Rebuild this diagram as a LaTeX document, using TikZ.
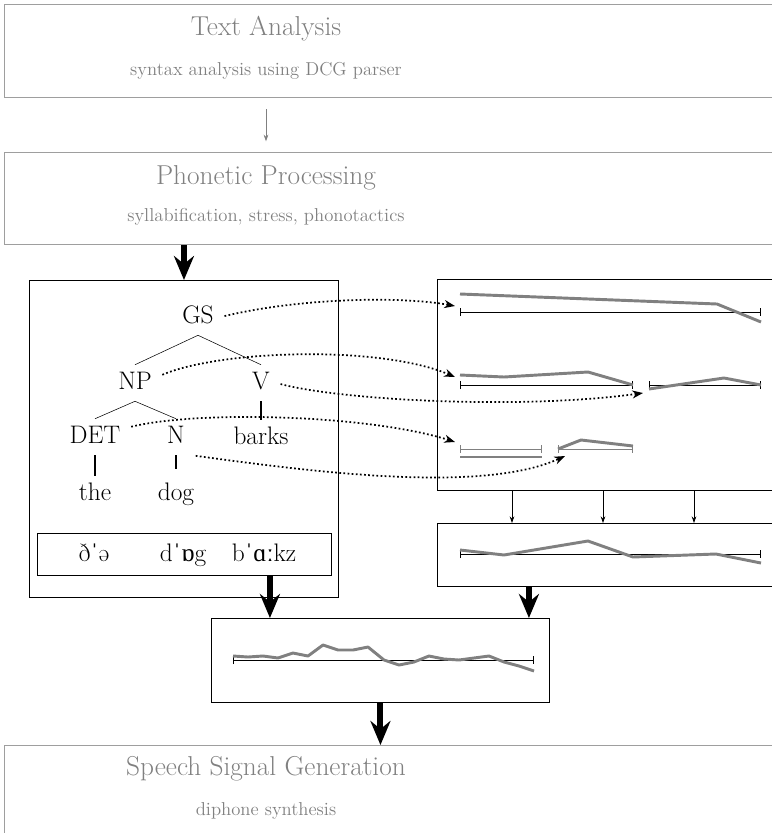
\documentclass[tikz,border=0pt]{standalone}
\usepackage{fontspec}
\usetikzlibrary{arrows.meta}
\newfontfamily\ipafont{Liberation Serif}
\definecolor{stagegray}{gray}{0.62}
\definecolor{textgray}{gray}{0.5}

\begin{document}
\begin{tikzpicture}[x=0.75pt,y=-0.75pt,
  stage/.style={draw=stagegray,line width=1pt,anchor=north west,minimum width=589.5pt,inner sep=0pt},
  frame/.style={draw,line width=0.7pt,anchor=north west,inner sep=0pt},
  title/.style={text=textgray,font=\fontsize{20.5}{24}\selectfont,anchor=base},
  subtitle/.style={text=textgray,font=\fontsize{14}{17}\selectfont,anchor=base},
  cat/.style={font=\fontsize{19}{23}\selectfont,anchor=base,inner sep=5pt,text height=13pt,text depth=4pt},
  ipa/.style={font=\fontsize{19}{23}\selectfont,anchor=base},
  lexline/.style={line width=1.6pt},
  axis/.style={{Bar[width=6pt]}-{Bar[width=6pt]},line width=0.7pt},
  pitch/.style={textgray,line width=2.2pt,line join=round},
  bigarrow/.style={line width=4.5pt,-{Stealth[length=18pt,width=15pt,inset=6pt]}},
  dotarrow/.style={line width=1.3pt,dash pattern=on 1.3pt off 1.8pt,shorten <=3pt,-{Stealth[length=8pt,width=6pt,inset=2.5pt]}},
  smallarrow/.style={line width=0.6pt,-{Stealth[length=5pt,width=3.5pt]}}]
\useasboundingbox (0,0) rectangle (772,833);

\node[stage,minimum height=69.75pt] (textbox) at (4,4) {};
\node[title] (tatitle) at (266,35) {Text Analysis};
\node[subtitle] (tasub) at (266,75) {syntax analysis using DCG parser};
\node[stage,minimum height=69pt] (phonbox) at (4,152) {};
\node[title] (pptitle) at (266,184) {Phonetic Processing};
\node[subtitle] (ppsub) at (266,221) {syllabification, stress, phonotactics};
\node[stage,minimum height=75pt] (speechbox) at (4,745) {};
\node[title] (sgtitle) at (266,775) {Speech Signal Generation};
\node[subtitle] (sgsub) at (266,815) {diphone synthesis};
\draw[smallarrow,textgray,shorten <=8pt,shorten >=8pt] (textbox.south -| tatitle) -- (phonbox.north -| tatitle);

\node[frame,minimum width=231.75pt,minimum height=237.75pt] (treebox) at (29,280) {};
\node[cat] (GS) at (198,323) {GS};
\node[cat] (NP) at (135,389) {NP};
\node[cat] (V) at (261,389) {V};
\node[cat] (DET) at (95,443) {DET};
\node[cat] (N) at (176,443) {N};
\node[cat] (barks) at (261,444) {barks};
\node[cat] (the) at (95,500) {the};
\node[cat] (dog) at (176,500) {dog};
\draw (GS.south) -- (NP.north) (GS.south) -- (V.north) (NP.south) -- (DET.north) (NP.south) -- (N.north);
\draw[lexline] (V.south) -- (barks.north);
\draw[lexline,shorten >=5pt] (DET.south) -- (the.north) (N.south) -- (dog.north);
\node[frame,minimum width=220.5pt,minimum height=31.5pt] (ipabox) at (37,533) {};
\node[ipa] (ipathe) at (94,561) {ð{\ipafont ˈ}ə};
\node[ipa] (ipadog) at (183,561) {d{\ipafont ˈɒ}g};
\node[ipa] (ipabarks) at (264,561) {b{\ipafont ˈɑː}kz};

\node[frame,minimum width=264.75pt,minimum height=158.25pt] (contourbox) at (437,279) {};
\draw[axis] (460,312) -- (761,312);
\draw[pitch] (460,294) -- (717,304) -- (761,322);
\draw[axis] (460,385) -- (633,385);
\draw[pitch] (460,375) -- (504,377) -- (588,372) -- (633,385);
\draw[axis] (649,385) -- (761,385);
\draw[pitch] (649,389) -- (724,378) -- (761,385);
\draw[axis,textgray] (460,449) -- (542,449);
\draw[pitch] (460,457) -- (542,457);
\draw[axis,textgray] (558,449) -- (633,449);
\draw[pitch] (558,449) -- (581,440) -- (633,446);
\coordinate (gsend) at (455,306);
\coordinate (npend) at (455,377);
\coordinate (vend) at (643,393);
\coordinate (detend) at (455,442);
\coordinate (nend) at (565,456);
\draw[dotarrow] (GS.east) .. controls (300,298) and (400,296) .. (gsend);
\draw[dotarrow] ([yshift=5pt]NP.east) .. controls (220,350) and (380,345) .. (npend);
\draw[dotarrow] (V.east) .. controls (340,400) and (520,410) .. (vend);
\draw[dotarrow] ([yshift=7pt]DET.east) .. controls (200,410) and (370,415) .. (detend);
\draw[dotarrow] (N.south east) .. controls (300,470) and (480,495) .. (nend);

\node[frame,minimum width=264.75pt,minimum height=47.25pt] (mergebox) at (437,523) {};
\foreach \x in {512,603,694}
  \draw[smallarrow] (\x,0 |- contourbox.south) -- (\x,0 |- mergebox.north);
\draw[axis] (460,554) -- (761,554);
\draw[pitch] (460,550) -- (504,555) -- (588,541) -- (633,557) -- (716,554) -- (761,563);

\node[frame,minimum width=253.5pt,minimum height=63pt] (signalbox) at (211,618) {};
\draw[axis] (233,660) -- (534,660);
\draw[pitch] (233,656) -- (248,657) -- (263,656) -- (278,658) -- (293,653) -- (308,656) -- (323,645) -- (338,650) -- (353,650) -- (368,647) -- (384,660) -- (399,665) -- (414,662) -- (429,656) -- (444,659) -- (459,660) -- (474,658) -- (489,656) -- (504,662) -- (519,666) -- (534,671);

\draw[bigarrow] (treebox.north |- phonbox.south) -- (treebox.north);
\draw[bigarrow] ([xshift=-46.5pt]ipabox.south east) -- ([xshift=-46.5pt]ipabox.south east |- signalbox.north);
\draw[bigarrow] ([xshift=-15.75pt]signalbox.north east |- mergebox.south) -- ([xshift=-15.75pt]signalbox.north east);
\draw[bigarrow] (signalbox.south) -- (signalbox.south |- speechbox.north);
\end{tikzpicture}
\end{document}
